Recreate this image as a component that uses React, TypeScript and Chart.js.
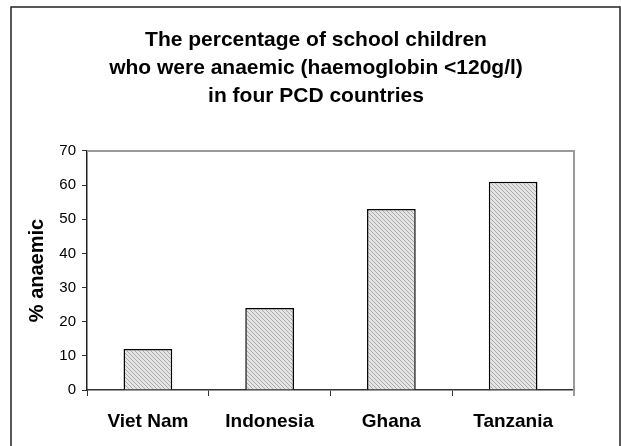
import React, { useEffect, useRef } from "react";
import { Chart, registerables } from "chart.js";

Chart.register(...registerables);

const categories = ["Viet Nam", "Indonesia", "Ghana", "Tanzania"];
const anaemicPercent = [12, 24, 53, 61];
const titleLines = [
  "The percentage of school children",
  "who were anaemic (haemoglobin <120g/l)",
  "in four PCD countries",
];
const yAxisTitle = "% anaemic";
const yMin = 0;
const yMax = 70;
const yStep = 10;

const FONT = "'Liberation Sans', Arial, Helvetica, sans-serif";

function makeHatch(): CanvasPattern | string {
  const c = document.createElement("canvas");
  c.width = 4;
  c.height = 4;
  const g = c.getContext("2d");
  if (!g) return "#cccccc";
  g.fillStyle = "#e4e4e4";
  g.fillRect(0, 0, 4, 4);
  g.fillStyle = "#ababab";
  for (let i = 0; i < 4; i++) g.fillRect(i, i, 1, 1);
  const p = g.createPattern(c, "repeat");
  return p || "#cccccc";
}

const framePlugin = {
  id: "frame",
  beforeDraw(chart: any) {
    const { ctx, width, height } = chart;
    ctx.save();
    ctx.fillStyle = "#ffffff";
    ctx.fillRect(0, 0, width, height);
    ctx.restore();
  },
  afterDraw(chart: any) {
    const { ctx } = chart;
    const { left, top, right, bottom } = chart.chartArea;
    ctx.save();
    ctx.strokeStyle = "#999999";
    ctx.lineWidth = 2;
    ctx.beginPath();
    ctx.moveTo(left, top);
    ctx.lineTo(right, top);
    ctx.lineTo(right, bottom + 6);
    ctx.stroke();
    ctx.strokeStyle = "#222222";
    ctx.lineWidth = 1.5;
    ctx.strokeRect(11, 7, chart.width - 12, chart.height + 10);
    ctx.restore();
  },
};

export default function App() {
  const ref = useRef<HTMLCanvasElement | null>(null);

  useEffect(() => {
    if (!ref.current) return;
    const chart = new Chart(ref.current, {
      type: "bar",
      data: {
        labels: categories,
        datasets: [
          {
            data: anaemicPercent,
            backgroundColor: makeHatch() as any,
            borderColor: "#000000",
            borderWidth: 1.5,
            categoryPercentage: 1,
            barPercentage: 0.4,
          },
        ],
      },
      options: {
        animation: false,
        responsive: false,
        layout: { padding: { left: 11, top: 7, right: 0, bottom: 0 } },
        plugins: {
          legend: { display: false },
          tooltip: { enabled: false },
          title: {
            display: true,
            text: titleLines,
            color: "#000000",
            font: { family: FONT, size: 21, weight: "bold", lineHeight: 1.333 },
            padding: { top: 19, bottom: 41 },
          },
        },
        scales: {
          x: {
            offset: true,
            grid: {
              display: true,
              offset: true,
              drawOnChartArea: false,
              drawTicks: true,
              tickLength: 6,
              color: "#333333",
            },
            border: { display: true, color: "#333333", width: 1.5 },
            ticks: {
              color: "#000000",
              padding: 14,
              font: { family: FONT, size: 19, weight: "bold" },
            },
            afterFit(scale: any) {
              scale.height = 56;
            },
          },
          y: {
            min: yMin,
            max: yMax,
            ticks: {
              stepSize: yStep,
              color: "#000000",
              padding: 6,
              font: { family: FONT, size: 15 },
            },
            grid: {
              display: true,
              drawOnChartArea: false,
              drawTicks: true,
              tickLength: 5,
              color: "#333333",
            },
            border: { display: true, color: "#222222", width: 1.5 },
            title: {
              display: true,
              text: yAxisTitle,
              color: "#000000",
              font: { family: FONT, size: 20, weight: "bold" },
              padding: { top: 14, bottom: 0 },
            },
            afterFit(scale: any) {
              scale.width = 76;
            },
          },
          spacer: {
            type: "linear",
            position: "right",
            display: true,
            ticks: { display: false },
            grid: { display: false },
            border: { display: false },
            afterFit(scale: any) {
              scale.width = 47;
            },
          },
        },
      },
      plugins: [framePlugin],
    });
    return () => chart.destroy();
  }, []);

  return (
    <div style={{ position: "fixed", left: 0, top: 0, width: 621, height: 446 }}>
      <canvas ref={ref} width={621} height={446} style={{ display: "block" }} />
    </div>
  );
}
